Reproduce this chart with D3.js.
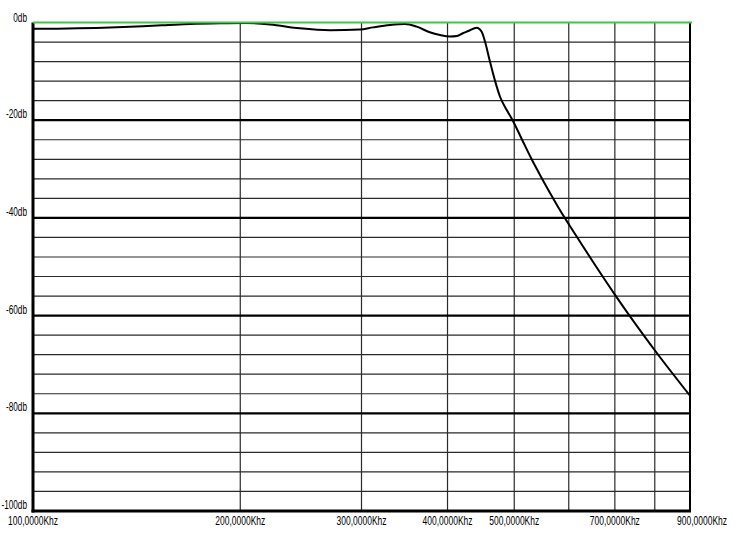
<!DOCTYPE html>
<html><head><meta charset="utf-8">
<script src="https://cdn.jsdelivr.net/npm/d3@7"></script>
<style>body{margin:0;background:#fff}svg{display:block}text{font-family:"Liberation Sans Narrow","Liberation Sans",Arial,sans-serif;fill:#000}</style>
</head><body>
<svg id="c" width="739" height="540"></svg>
<script>
// Data
const freqKhz = [100,129.4,144.4,155.5,169,186.9,203,221,244,270,298.5,311.8,330,347,360.8,377,390,403.4,412.9,421,428.8,441,448.4,453.4,461,468.8,476.8,487.6,498.5,514.9,530,545,563.6,586,602.6,623,657,700,736,805,900];
const gainDb = [-1.3,-1.0,-0.75,-0.55,-0.3,-0.15,-0.1,-0.4,-1.2,-1.6,-1.45,-1.0,-0.5,-0.3,-0.85,-2.0,-2.55,-2.85,-2.75,-2.2,-1.75,-1.05,-1.9,-3.9,-8.0,-11.9,-15.2,-17.9,-20.3,-24.4,-28.0,-31.2,-34.9,-39.0,-41.7,-44.9,-49.9,-55.7,-60.1,-67.6,-76.4];
const xTickVals = [100,200,300,400,500,700,900];
const xTickLabels = ["100,0000Khz","200,0000Khz","300,0000Khz","400,0000Khz","500,0000Khz","700,0000Khz","900,0000Khz"];
const xGridVals = [200,300,400,500,600,700,800];
const yMajor = [0,-20,-40,-60,-80,-100];
const yLabels = ["0db","-20db","-40db","-60db","-80db","-100db"];
const yMinor = d3.range(0,-101,-4);

const L=33,R=690,T=22.5,B=511;
const svg=d3.select("#c");
const x=d3.scaleLog().domain([100,900]).range([L,R]);
const y=d3.scaleLinear().domain([0,-100]).range([T,B]);

// minor horizontal grid
svg.append("g").selectAll("line").data(yMinor.filter(v=>v%20!==0)).join("line")
 .attr("x1",L).attr("x2",R).attr("y1",d=>y(d)).attr("y2",d=>y(d))
 .attr("stroke","#2a2a2a").attr("stroke-width",1.2);
// vertical grid
svg.append("g").selectAll("line").data(xGridVals).join("line")
 .attr("x1",d=>x(d)).attr("x2",d=>x(d)).attr("y1",T).attr("y2",B)
 .attr("stroke","#2a2a2a").attr("stroke-width",1.2);
// major horizontal grid
svg.append("g").selectAll("line").data(yMajor.filter(v=>v!==0&&v!==-100)).join("line")
 .attr("x1",L).attr("x2",R).attr("y1",d=>y(d)).attr("y2",d=>y(d))
 .attr("stroke","#000").attr("stroke-width",2.2);
// right border
svg.append("line").attr("x1",R).attr("x2",R).attr("y1",T).attr("y2",B).attr("stroke","#000").attr("stroke-width",2);
// left and bottom axes
svg.append("line").attr("x1",L).attr("x2",L).attr("y1",T).attr("y2",B+1.5).attr("stroke","#000").attr("stroke-width",3);
svg.append("line").attr("x1",L-1.5).attr("x2",R+1).attr("y1",B).attr("y2",B).attr("stroke","#000").attr("stroke-width",3);

// curve
const line=d3.line().x((d,i)=>x(freqKhz[i])).y(d=>y(d)).curve(d3.curveMonotoneX);
svg.append("path").datum(gainDb).attr("d",line).attr("fill","none").attr("stroke","#000").attr("stroke-width",2);

// top 0 dB green line
svg.append("line").attr("x1",L).attr("x2",R+2).attr("y1",y(0)).attr("y2",y(0)).attr("stroke","#3ec83e").attr("stroke-width",2.2);

// y labels
const yl=svg.append("g").selectAll("text").data(yMajor).join("text")
 .attr("x",27).attr("y",(d,i)=>y(d)-(i===0?1:2)).attr("text-anchor","end").attr("font-size",13.5)
 .text((d,i)=>yLabels[i]);
const ref=yl.nodes()[1].getComputedTextLength();
const k=21/ref;
yl.each(function(){const w=this.getComputedTextLength();this.setAttribute("textLength",w*k);this.setAttribute("lengthAdjust","spacingAndGlyphs");});

// x labels
const last=xTickVals.length-1;
svg.append("g").selectAll("text").data(xTickVals).join("text")
 .attr("x",(d,i)=>i===last?x(d)+37:x(d)).attr("y",B+13.5)
 .attr("text-anchor",(d,i)=>i===last?"end":"middle").attr("font-size",12.5)
 .text((d,i)=>xTickLabels[i])
 .attr("textLength",50).attr("lengthAdjust","spacingAndGlyphs");
</script>
</body></html>
